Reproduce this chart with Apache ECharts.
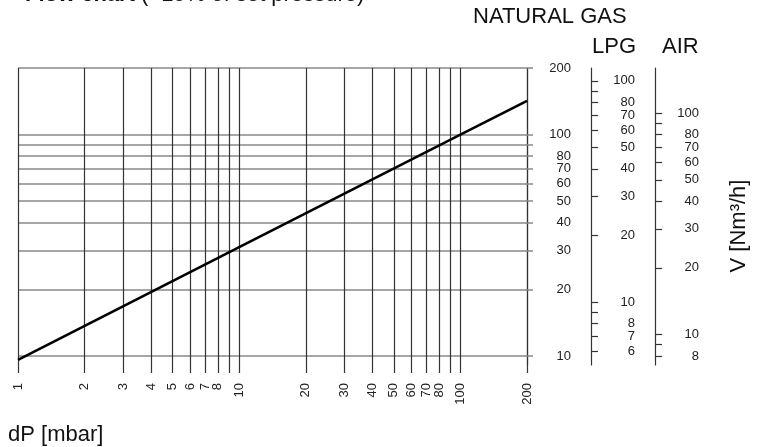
<!DOCTYPE html>
<html>
<head>
<meta charset="utf-8">
<script src="https://cdn.jsdelivr.net/npm/echarts@6/dist/echarts.min.js"></script>
<style>
  html, body { margin: 0; padding: 0; background: #fff; }
  #chart { width: 769px; height: 447px; }
</style>
</head>
<body>
<div id="chart"></div>
<script>
// flow curve (natural gas)
var dpValues = [1, 10, 100, 200];
var flowValues = [9.6, 31, 100, 142];

// dP axis
var dpGrid = [1, 2, 3, 4, 5, 6, 7, 8, 9, 10, 20, 30, 40, 50, 60, 70, 80, 90, 100, 200];
var dpLabels = [1, 2, 3, 4, 5, 6, 7, 8, 10, 20, 30, 40, 50, 60, 70, 80, 100, 200];

// natural gas scale
var ngGrid = [10, 20, 30, 40, 50, 60, 70, 80, 90, 100, 200];
var ngLabels = [10, 20, 30, 40, 50, 60, 70, 80, 100, 200];

// LPG scale
var lpgTicks = [6, 7, 8, 9, 10, 20, 30, 40, 50, 60, 70, 80, 90, 100];
var lpgLabels = [6, 7, 8, 10, 20, 30, 40, 50, 60, 70, 80, 100];

// air scale
var airTicks = [8, 9, 10, 20, 30, 40, 50, 60, 70, 80, 90, 100];
var airLabels = [8, 10, 20, 30, 40, 50, 60, 70, 80, 100];

// natural gas flow divided by these gives LPG / air flow
var lpgFactor = 1.75;
var airFactor = 1.25;

var ngMin = 9.1, ngMax = 200;
var font = 'Liberation Sans, Arial, sans-serif';

var chart = echarts.init(document.getElementById('chart'));

function sideAxis(gridIndex, min, max, ticks, labels) {
    return {
        type: 'log',
        gridIndex: gridIndex,
        position: 'right',
        min: min,
        max: max,
        axisLine: { show: true, lineStyle: { color: '#333', width: 1.2 } },
        axisTick: { show: true, length: 7, customValues: ticks, lineStyle: { color: '#333', width: 1.2 } },
        axisLabel: {
            customValues: labels, align: 'right', margin: 43,
            fontFamily: font, fontSize: 13, color: '#222'
        },
        splitLine: { show: false }
    };
}

function hiddenX(gridIndex) {
    return { type: 'value', gridIndex: gridIndex, min: 0, max: 1, show: false };
}

chart.setOption({
    backgroundColor: '#fff',
    animation: false,
    grid: [
        { left: 18, top: 68, width: 509, height: 297, outerBoundsMode: 'none', containLabel: false },
        { left: 591, top: 68, width: 1, height: 297, outerBoundsMode: 'none', containLabel: false },
        { left: 655, top: 68, width: 1, height: 297, outerBoundsMode: 'none', containLabel: false }
    ],
    xAxis: [
        {
            type: 'log',
            gridIndex: 0,
            min: 1,
            max: 200,
            axisLine: { show: false },
            axisTick: { show: true, length: 8, customValues: dpGrid, lineStyle: { color: '#333', width: 1.2 } },
            axisLabel: {
                customValues: dpLabels, rotate: 90, margin: 18,
                fontFamily: font, fontSize: 13, color: '#222'
            },
            splitLine: { show: true, lineStyle: { color: '#333', width: 1.2 } }
        },
        hiddenX(1),
        hiddenX(2)
    ],
    yAxis: [
        {
            type: 'log',
            gridIndex: 0,
            position: 'right',
            min: ngMin,
            max: ngMax,
            axisLine: { show: true, lineStyle: { color: '#333', width: 1.2 } },
            axisTick: { show: true, length: 6, customValues: ngGrid, lineStyle: { color: '#888', width: 1.5 } },
            axisLabel: {
                customValues: ngLabels, align: 'right', margin: 44,
                fontFamily: font, fontSize: 13, color: '#222'
            },
            splitLine: { show: true, lineStyle: { color: '#888', width: 1.5 } }
        },
        sideAxis(1, ngMin / lpgFactor, ngMax / lpgFactor, lpgTicks, lpgLabels),
        sideAxis(2, ngMin / airFactor, ngMax / airFactor, airTicks, airLabels)
    ],
    series: [
        {
            type: 'line',
            xAxisIndex: 0,
            yAxisIndex: 0,
            data: dpValues.map(function (d, i) { return [d, flowValues[i]]; }),
            symbol: 'none',
            lineStyle: { color: '#000', width: 2.6 },
            silent: true
        }
    ],
    graphic: [
        {
            type: 'text', left: 25, top: -16,
            style: {
                text: '{b|Flow chart} (+15% of set pressure)',
                font: '22px ' + font, fill: '#111',
                rich: { b: { fontWeight: 'bold', fontSize: 22, fontFamily: font, fill: '#111' } }
            }
        },
        {
            type: 'text', x: 473, y: 17,
            style: { text: 'NATURAL GAS', font: '22px ' + font, fill: '#111', verticalAlign: 'middle' }
        },
        {
            type: 'text', x: 592, y: 47,
            style: { text: 'LPG', font: '22px ' + font, fill: '#111', verticalAlign: 'middle' }
        },
        {
            type: 'text', x: 662, y: 47,
            style: { text: 'AIR', font: '22px ' + font, fill: '#111', verticalAlign: 'middle' }
        },
        {
            type: 'text', x: 739, y: 226, rotation: Math.PI / 2,
            style: { text: 'V [Nm³/h]', font: '22px ' + font, fill: '#111', align: 'center', verticalAlign: 'middle' }
        },
        {
            type: 'text', x: 8, y: 435,
            style: { text: 'dP [mbar]', font: '22px ' + font, fill: '#111', verticalAlign: 'middle' }
        }
    ]
});
</script>
</body>
</html>
